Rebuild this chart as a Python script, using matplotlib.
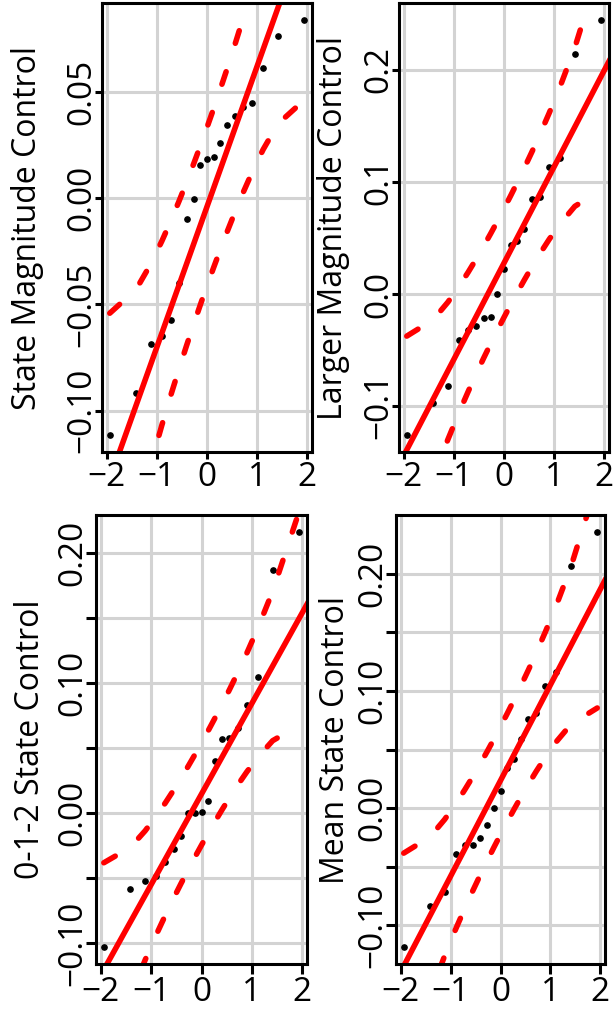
import numpy as np
import matplotlib
matplotlib.use("Agg")
import matplotlib.pyplot as plt
from statistics import NormalDist

plt.rcParams['font.family'] = ['Open Sans', 'DejaVu Sans']
plt.rcParams['lines.scale_dashes'] = False

# residuals of each control model (n = 19)
state_magnitude = [-0.1117, -0.0916, -0.0686, -0.0647, -0.0572, -0.0400, -0.0096, -0.0002, 0.0155, 0.0186,
                   0.0196, 0.0261, 0.0346, 0.0387, 0.0428, 0.0448, 0.0614, 0.0763, 0.0842]
larger_magnitude = [-0.1260, -0.0970, -0.0816, -0.0407, -0.0318, -0.0288, -0.0211, -0.0205, 0.0003, 0.0225,
                    0.0439, 0.0477, 0.0578, 0.0845, 0.0868, 0.1135, 0.1210, 0.2144, 0.2447]
state_012 = [-0.1030, -0.0583, -0.0519, -0.0480, -0.0373, -0.0271, -0.0174, 0.0000, 0.0003, 0.0010,
             0.0092, 0.0399, 0.0573, 0.0578, 0.0657, 0.0828, 0.1048, 0.1871, 0.2163]
mean_state = [-0.1187, -0.0837, -0.0713, -0.0394, -0.0318, -0.0312, -0.0253, -0.0142, 0.0003, 0.0147,
              0.0347, 0.0423, 0.0588, 0.0764, 0.0809, 0.1042, 0.1161, 0.2064, 0.2359]

ylabels = ["State Magnitude Control", "Larger Magnitude Control",
           "0-1-2 State Control", "Mean State Control"]

x_ticks = [-2, -1, 0, 1, 2]
x_ticklabels = ["\u22122", "\u22121", "0", "1", "2"]

yt_a = [-0.10, -0.05, 0.00, 0.05]
yl_a = ["\u22120.10", "\u22120.05", "0.00", "0.05"]
yt_b = [-0.1, 0.0, 0.1, 0.2]
yl_b = ["\u22120.1", "0.0", "0.1", "0.2"]
yt_c = [-0.10, -0.05, 0.00, 0.05, 0.10, 0.15, 0.20]
yl_c = ["\u22120.10", "", "0.00", "", "0.10", "", "0.20"]

W, H = 613, 1010
# panel boxes in pixels: left, right, top, bottom
boxes = [(102, 312, 3, 452), (399, 609, 3, 452), (96, 307, 515, 964), (396, 605, 515, 964)]
label_x = [28, 333, 31, 336]


def qq_panel(ax, x, yticks, yticklabels, tick_len, ypad, xpad):
    x = np.sort(np.asarray(x))
    n = len(x)
    nd = NormalDist()
    P = (np.arange(1, n + 1) - 0.5) / n
    z = np.array([nd.inv_cdf(p) for p in P])

    # line through the quartiles
    qx = np.quantile(x, [0.25, 0.75])
    qz = np.array([nd.inv_cdf(0.25), nd.inv_cdf(0.75)])
    b = (qx[1] - qx[0]) / (qz[1] - qz[0])
    a = qx[0] - b * qz[0]

    # pointwise 95% envelope
    dens = np.exp(-z ** 2 / 2) / np.sqrt(2 * np.pi)
    se = (b / dens) * np.sqrt(P * (1 - P) / n)
    zz = nd.inv_cdf(0.975)
    fit = a + b * z

    zr = z.max() - z.min()
    xr = x.max() - x.min()
    ax.set_xlim(z.min() - 0.04 * zr, z.max() + 0.04 * zr)
    ax.set_ylim(x.min() - 0.04 * xr, x.max() + 0.04 * xr)

    ax.set_xticks(x_ticks)
    ax.set_xticklabels(x_ticklabels, fontsize=24)
    ax.set_yticks(yticks)
    ax.set_yticklabels(yticklabels, fontsize=24, rotation=90, rotation_mode='anchor',
                       ha='center', va='baseline')
    ax.tick_params(axis='both', length=tick_len, width=2.2, color='black')
    ax.tick_params(axis='y', pad=ypad)
    ax.tick_params(axis='x', pad=xpad)
    ax.grid(True, color='#d3d3d3', linewidth=2.2)
    ax.set_axisbelow(True)
    for s in ax.spines.values():
        s.set_linewidth(2.2)
        s.set_zorder(6)

    ax.plot(z, x, 'o', color='black', markersize=3.8, zorder=3)
    ax.axline((0, a), slope=b, color='red', linewidth=4, zorder=4)
    dash = (0, (9.5, 21.5))
    ax.plot(z, fit + zz * se, color='red', linewidth=4, linestyle=dash,
            dash_capstyle='round', zorder=5)
    ax.plot(z, fit - zz * se, color='red', linewidth=4, linestyle=dash,
            dash_capstyle='round', zorder=5)


fig = plt.figure(figsize=(W / 100, H / 100), dpi=100)

series = [state_magnitude, larger_magnitude, state_012, mean_state]
ticks = [(yt_a, yl_a), (yt_b, yl_b), (yt_c, yl_c), (yt_c, yl_c)]
tick_lens = [5, 5, 7, 7]

for i in range(4):
    l, r, t, btm = boxes[i]
    ax = fig.add_axes([l / W, 1 - btm / H, (r - l) / W, (btm - t) / H])
    qq_panel(ax, series[i], ticks[i][0], ticks[i][1], tick_lens[i], 3.5, 1.5)
    fig.text(label_x[i] / W, 1 - ((t + btm) / 2) / H, ylabels[i], rotation=90,
             ha='center', va='center', fontsize=23)

fig.savefig("out.png", dpi=100)
